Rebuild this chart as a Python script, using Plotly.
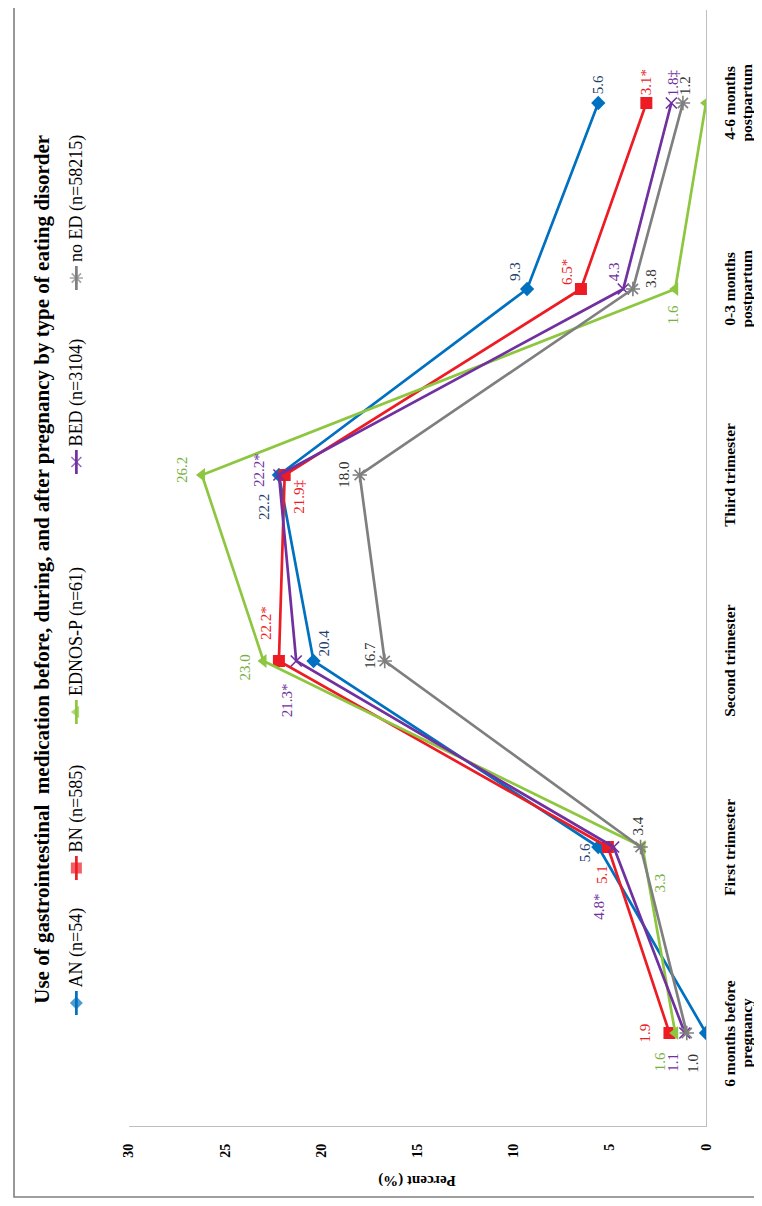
import plotly.graph_objects as go

# ---------------- data ----------------
categories = ["6 months before<br>pregnancy", "First trimester", "Second trimester",
              "Third trimester", "0-3 months<br>postpartum", "4-6 months<br>postpartum"]
series_names = ["AN (n=54)", "BN (n=585)", "EDNOS-P (n=61)", "BED (n=3104)", "no ED (n=58215)"]
an_values = [0.0, 5.6, 20.4, 22.2, 9.3, 5.6]
bn_values = [1.9, 5.1, 22.2, 21.9, 6.5, 3.1]
ednos_values = [1.6, 3.3, 23.0, 26.2, 1.6, 0.0]
bed_values = [1.1, 4.8, 21.3, 22.2, 4.3, 1.8]
noed_values = [1.0, 3.4, 16.7, 18.0, 3.8, 1.2]
# significance marks added to the value labels (None = no label shown)
an_marks = [None, "", "", "", "", ""]
bn_marks = ["", "", "*", "\u2021", "*", "*"]
ednos_marks = ["", "", "", "", "", None]
bed_marks = ["", "*", "*", "*", "", "\u2021"]
noed_marks = ["", "", "", "", "", ""]
percent_ticks = [0, 5, 10, 15, 20, 25, 30]
title_text = "Use of gastrointestinal  medication before, during, and after pregnancy by type of eating disorder"
axis_title = "Percent (%)"

# ---------------- layout helpers (screen pixel coordinates) ----------------
OFF = 8                      # page body margin
SW, SH = 762, 1206           # screen size
W, H = SW, SH                # figure size (overflow beyond the window is not shown)
PX0, PX1 = 123, 706          # plot area in screen px (x)
PY0, PY1 = 10, 1126          # plot area in screen px (y)
ML, MT = 0, PY0 - OFF
PW, PH = PX1 - OFF - ML, PY1 - PY0
MR, MB = W - ML - PW, H - MT - PH
SERIF = "Liberation Serif"

def px(x):
    return (x - OFF - ML) / PW

def py(y):
    return (PY1 - y) / PH

line_colors = ["#0070C0", "#ED1C24", "#8DC63F", "#7030A0", "#7F7F7F"]
label_colors = ["#1F3F6E", "#ED1C24", "#77B041", "#7030A0", "#333333"]
symbols = ["diamond", "square", "triangle-left", "x-thin-open", "asterisk-open"]
msizes = [11, 12, 12, 11, 12]
# label offsets in screen pixels (dx right, dy down), per series per category
label_offsets = [
    [(0, 0), (-13, 6), (10, -18), (-15, 32), (-12, -17), (0, -18)],
    [(-24, 0), (-6, 27), (-13, -38), (14, 22), (-14, -17), (0, -21)],
    [(-15, 29), (17, 36), (-19, 7), (-20, -5), (-2, 26), (0, 0)],
    [(-12, 29), (-15, 60), (-9, 39), (-20, -5), (-9, -17), (2, -20)],
    [(6, 30), (-3, -21), (-15, -6), (-16, 0), (18, -11), (2, -18)],
]
legend_centers = [1003, 868, 712, 462, 278]
LEG_X = 70
TITLE_X = 35
CAT_X, CAT_DX = 729, 17

all_values = [an_values, bn_values, ednos_values, bed_values, noed_values]
all_marks = [an_marks, bn_marks, ednos_marks, bed_marks, noed_marks]

fig = go.Figure()
for i, (name, vals) in enumerate(zip(series_names, all_values)):
    lw = 1.6 if symbols[i] in ("x-thin-open", "asterisk-open") else 0
    fig.add_trace(go.Scatter(
        x=vals, y=categories, mode="lines+markers", name=name,
        line=dict(color=line_colors[i], width=2.7),
        marker=dict(symbol=symbols[i], size=msizes[i], color=line_colors[i],
                    line=dict(color=line_colors[i], width=lw)),
        xaxis="x", yaxis="y", showlegend=False, hoverinfo="skip"))

annotations = []
for i, vals in enumerate(all_values):
    for j, v in enumerate(vals):
        mk = all_marks[i][j]
        if mk is None:
            continue
        dx, dy = label_offsets[i][j]
        annotations.append(dict(
            x=v, y=categories[j], xref="x", yref="y", text=f"{v:.1f}{mk}",
            textangle=-90, showarrow=False, xshift=dx, yshift=-dy,
            xanchor="center", yanchor="middle",
            font=dict(family=SERIF, size=15, color=label_colors[i])))

# category labels, one annotation per text line
for c in categories:
    for k, part in enumerate(c.split("<br>")):
        annotations.append(dict(
            x=px(CAT_X + CAT_DX * k), y=c, xref="paper", yref="y", text=f"<b>{part}</b>",
            textangle=-90, showarrow=False, xanchor="center", yanchor="middle",
            font=dict(family=SERIF, size=15.5, color="black")))

# axis title (upside down because whole chart is rotated)
annotations.append(dict(
    x=px(414), y=py(1181), xref="paper", yref="paper", text=f"<b>{axis_title}</b>",
    textangle=180, showarrow=False, xanchor="center", yanchor="middle",
    font=dict(family=SERIF, size=15, color="black")))

# chart title
annotations.append(dict(
    x=px(TITLE_X), y=py(569), xref="paper", yref="paper", text=f"<b>{title_text}</b>",
    textangle=-90, showarrow=False, xanchor="center", yanchor="middle",
    font=dict(family=SERIF, size=21, color="black")))

# custom rotated legend
for i, name in enumerate(series_names):
    yc = legend_centers[i]
    fig.add_trace(go.Scatter(
        x=[0.5, 0.5, 0.5], y=[yc + 12, yc, yc - 12], mode="lines+markers",
        line=dict(color=line_colors[i], width=2.7),
        marker=dict(symbol=symbols[i], size=[0, msizes[i] - 1, 0], color=line_colors[i],
                    line=dict(color=line_colors[i], width=1.6 if i >= 3 else 0)),
        xaxis="x2", yaxis="y2", showlegend=False, hoverinfo="skip"))
    annotations.append(dict(
        x=px(LEG_X), y=py(yc - 14), xref="paper", yref="paper", text=name,
        textangle=-90, showarrow=False, xanchor="center", yanchor="bottom",
        font=dict(family=SERIF, size=18, color="black")))

fig.update_layout(
    width=W, height=H, margin=dict(l=ML, r=MR, t=MT, b=MB),
    paper_bgcolor="white", plot_bgcolor="white",
    xaxis=dict(domain=[px(PX0), 1], range=[30, 0], tickvals=percent_ticks,
               ticktext=[f"<b>{t}</b>" for t in percent_ticks], tickangle=-90,
               tickfont=dict(family=SERIF, size=14, color="black"),
               showline=True, linecolor="#BFBFBF", linewidth=1.2, showgrid=False,
               zeroline=False, ticks="", ticklabelstandoff=11, anchor="y"),
    yaxis=dict(domain=[0, 1], type="category", categoryarray=categories,
               range=[-0.5, 5.5], side="right", showline=True, linecolor="#BFBFBF",
               linewidth=1.2, showgrid=False, zeroline=False, showticklabels=False,
               ticks="", anchor="x"),
    xaxis2=dict(domain=[px(LEG_X - 9), px(LEG_X + 9)], range=[0, 1], visible=False,
                anchor="y2"),
    yaxis2=dict(domain=[0, 1], range=[PY1, PY0], visible=False, anchor="x2"),
    annotations=annotations,
    shapes=[dict(type="rect", xref="paper", yref="paper",
                 x0=px(7), x1=px(775), y0=py(1197), y1=py(-20),
                 line=dict(color="#7F7F7F", width=1.6), fillcolor="rgba(0,0,0,0)",
                 layer="below")],
)

fig.write_html("out.html")
